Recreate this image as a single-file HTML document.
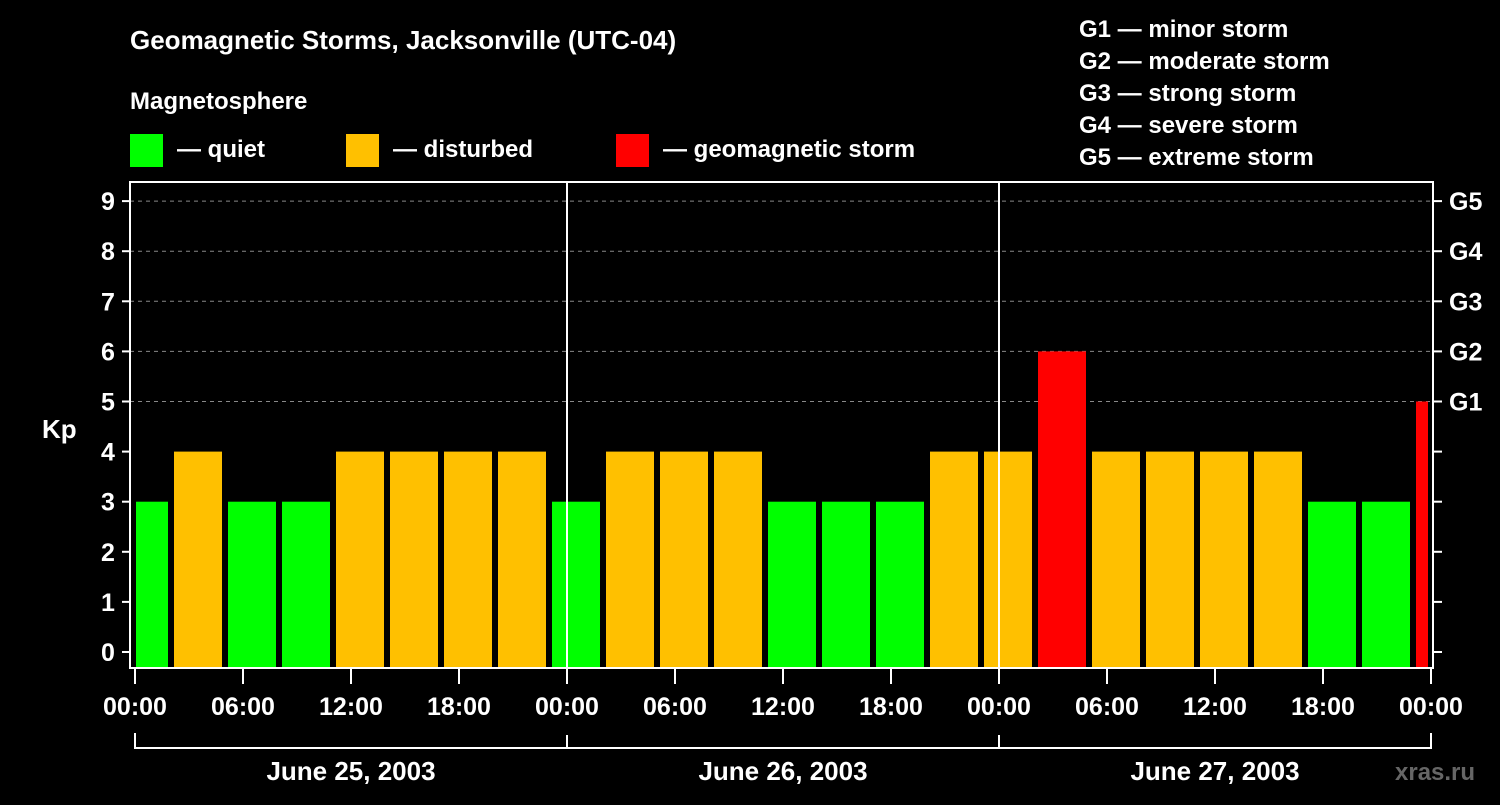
<!DOCTYPE html>
<html><head><meta charset="utf-8"><style>
body{margin:0;background:#000;width:1500px;height:800px;overflow:hidden}
svg text{font-family:"Liberation Sans",sans-serif;font-weight:bold;fill:#fff}
</style></head><body>
<svg id="chart" width="1500" height="800" xmlns="http://www.w3.org/2000/svg">
<text x="130" y="49" font-size="26">Geomagnetic Storms, Jacksonville (UTC-04)</text>
<text x="130" y="109" font-size="24">Magnetosphere</text>
<g>
<rect x="130" y="134" width="33" height="33" fill="#00ff00"/>
<text x="177" y="157" font-size="24">— quiet</text>
<rect x="346" y="134" width="33" height="33" fill="#ffc000"/>
<text x="393" y="157" font-size="24">— disturbed</text>
<rect x="616" y="134" width="33" height="33" fill="#ff0000"/>
<text x="663" y="157" font-size="24">— geomagnetic storm</text>
</g>
<g font-size="24">
<text x="1079" y="37">G1 — minor storm</text>
<text x="1079" y="69">G2 — moderate storm</text>
<text x="1079" y="101">G3 — strong storm</text>
<text x="1079" y="133">G4 — severe storm</text>
<text x="1079" y="165">G5 — extreme storm</text>
</g>
<text x="42" y="438" font-size="26">Kp</text>
<text x="1395" y="780" font-size="24" style="fill:#666">xras.ru</text>
<g id="grid"></g><g id="bars"></g><g id="axes"></g>
</svg>
<script>
const kpValues=[3,4,3,3,4,4,4,4,3,4,4,4,3,3,3,4,4,6,4,4,4,4,3,3,5];
const slotStartHours=-1; // local hour where first 3h slot begins
const yTicks=[0,1,2,3,4,5,6,7,8,9];
const gLabels=["G1","G2","G3","G4","G5"];
const gLevels=[5,6,7,8,9];
const xTickLabels=["00:00","06:00","12:00","18:00","00:00","06:00","12:00","18:00","00:00","06:00","12:00","18:00","00:00"];
const dayLabels=["June 25, 2003","June 26, 2003","June 27, 2003"];
const NS="http://www.w3.org/2000/svg";
const L=130,R=1433,T=182,B=668;
const x=h=>135+h*18;
const y=v=>652-v*50.1;
function mk(tag,attrs,parent){const e=document.createElementNS(NS,tag);for(const k in attrs)e.setAttribute(k,attrs[k]);document.getElementById(parent).appendChild(e);return e;}
yTicks.forEach(v=>{if(v>=5){const g=mk('line',{x1:L,x2:R,y1:y(v),y2:y(v),stroke:'#888','stroke-dasharray':'4,4','stroke-width':1},'grid');

}});
kpValues.forEach((v,i)=>{const h0=slotStartHours+i*3;let x0=x(h0)+3,x1=x(h0+3)-3;x0=Math.max(x0,136);x1=Math.min(x1,1428);
const c=v>=5?'#ff0000':(v>=4?'#ffc000':'#00ff00');
const r=mk('rect',{x:x0,y:y(v),width:x1-x0,height:B-y(v),fill:c},'bars');

});
const box=mk('rect',{x:L,y:T,width:R-L,height:B-T,fill:'none',stroke:'#fff','stroke-width':2},'axes');


[1,2].forEach(d=>{const l=mk('line',{x1:x(24*d),x2:x(24*d),y1:T,y2:B,stroke:'#fff','stroke-width':2},'axes');

});
yTicks.forEach(v=>{mk('line',{x1:122,x2:L,y1:y(v),y2:y(v),stroke:'#fff','stroke-width':2},'axes');
mk('line',{x1:R,x2:R+9,y1:y(v),y2:y(v),stroke:'#fff','stroke-width':2},'axes');
const t=mk('text',{x:108,y:y(v)+9,'font-size':25,'text-anchor':'middle'},'axes');t.textContent=v;

});
gLabels.forEach((g,i)=>{const t=mk('text',{x:1449,y:y(gLevels[i])+9,'font-size':25},'axes');t.textContent=g;

});
xTickLabels.forEach((s,i)=>{const xx=x(i*6);mk('line',{x1:xx,x2:xx,y1:B,y2:B+16,stroke:'#fff','stroke-width':2},'axes');
const t=mk('text',{x:xx,y:715,'font-size':25,'text-anchor':'middle'},'axes');t.textContent=s;

});
const br=mk('path',{d:'M'+x(0)+' 733V748H'+x(72)+'V733',fill:'none',stroke:'#fff','stroke-width':2},'axes');


[1,2].forEach(d=>{mk('line',{x1:x(24*d),x2:x(24*d),y1:735,y2:748,stroke:'#fff','stroke-width':2},'axes');});
dayLabels.forEach((s,i)=>{const t=mk('text',{x:x(24*i+12),y:780,'font-size':26,'text-anchor':'middle'},'axes');t.textContent=s;

});
</script>
</body></html>
